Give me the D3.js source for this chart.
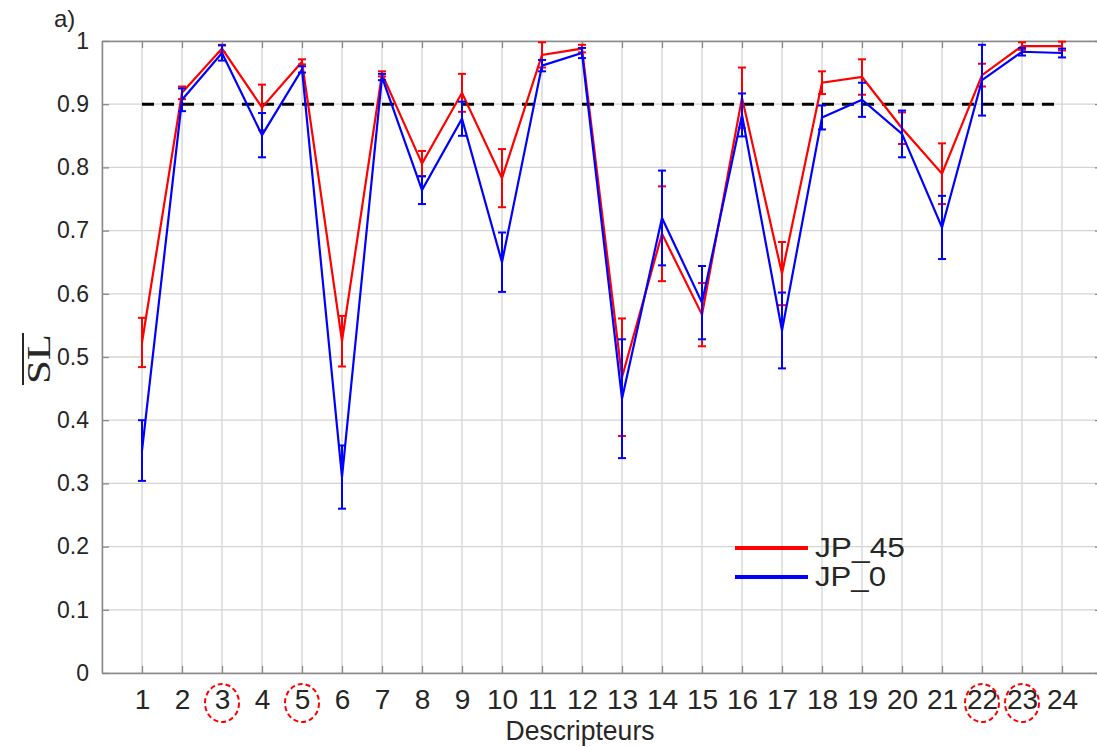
<!DOCTYPE html>
<html>
<head>
<meta charset="utf-8">
<script src="https://cdn.jsdelivr.net/npm/d3@7"></script>
<style>
  html, body { margin: 0; padding: 0; background: #fff; }
  svg { display: block; }
</style>
</head>
<body>
<svg id="chart" width="1097" height="747"></svg>
<script>
// ---- data ----
const categories = d3.range(1, 25);
const yTicks = [0, 0.1, 0.2, 0.3, 0.4, 0.5, 0.6, 0.7, 0.8, 0.9, 1];
const yTickLabels = ["0", "0.1", "0.2", "0.3", "0.4", "0.5", "0.6", "0.7", "0.8", "0.9", "1"];
const circled = [3, 5, 22, 23];
const threshold = 0.9;

const jp45 = [0.523, 0.918, 0.988, 0.895, 0.967, 0.525, 0.948, 0.806, 0.918, 0.783, 0.978, 0.988,
              0.468, 0.695, 0.567, 0.910, 0.632, 0.934, 0.943, 0.862, 0.790, 0.946, 0.992, 0.992];
const jp45Err = [0.039, 0.010, 0.006, 0.036, 0.004, 0.040, 0.004, 0.020, 0.030, 0.046, 0.020, 0.006,
                 0.093, 0.075, 0.050, 0.048, 0.050, 0.018, 0.028, 0.025, 0.048, 0.018, 0.006, 0.007];
const jp0 = [0.352, 0.907, 0.981, 0.851, 0.955, 0.310, 0.943, 0.764, 0.877, 0.650, 0.961, 0.981,
             0.434, 0.720, 0.586, 0.883, 0.542, 0.879, 0.907, 0.853, 0.705, 0.938, 0.983, 0.981];
const jp0Err = [0.048, 0.018, 0.012, 0.035, 0.005, 0.050, 0.005, 0.022, 0.027, 0.047, 0.009, 0.008,
                0.094, 0.075, 0.058, 0.034, 0.060, 0.019, 0.027, 0.037, 0.050, 0.056, 0.006, 0.007];

const series = [
  { name: "JP_45", color: "#ff0000", values: jp45, err: jp45Err, labelWidth: 90 },
  { name: "JP_0",  color: "#0000ff", values: jp0,  err: jp0Err, labelWidth: 71 }
];

// ---- layout ----
const svg = d3.select("#chart");
const pL = 102, pR = 1102, pT = 41, pB = 673;
const x = d3.scaleLinear().domain([0, 25]).range([pL, pR]);
const y = d3.scaleLinear().domain([0, 1]).range([pB, pT]);

const gridColor = "#d4d4d4";
const axisColor = "#8a8a8a";
const textColor = "#262626";

// grid
const grid = svg.append("g");
grid.selectAll("line.vg").data(d3.range(0, 26)).join("line")
  .attr("x1", d => x(d)).attr("x2", d => x(d))
  .attr("y1", pT).attr("y2", pB)
  .attr("stroke", gridColor).attr("stroke-width", 1.3);
grid.selectAll("line.hg").data(yTicks).join("line")
  .attr("x1", pL).attr("x2", pR)
  .attr("y1", d => y(d)).attr("y2", d => y(d))
  .attr("stroke", gridColor).attr("stroke-width", 1.3);

// axes (box)
const axL = svg.append("g").attr("transform", `translate(${pL},0)`)
  .call(d3.axisLeft(y).tickValues(yTicks).tickSizeInner(-7).tickSizeOuter(0).tickPadding(13)
    .tickFormat((d, i) => yTickLabels[i]));
const axB = svg.append("g").attr("transform", `translate(0,${pB})`)
  .call(d3.axisBottom(x).tickValues(categories).tickSizeInner(-7).tickSizeOuter(0).tickPadding(16)
    .tickFormat(d3.format("d")));
const axT = svg.append("g").attr("transform", `translate(0,${pT})`)
  .call(d3.axisTop(x).tickValues(categories).tickSizeInner(-7).tickSizeOuter(0).tickFormat(""));
const axR = svg.append("g").attr("transform", `translate(${pR},0)`)
  .call(d3.axisRight(y).tickValues(yTicks).tickSizeInner(-7).tickSizeOuter(0).tickFormat(""));

[axL, axB, axT, axR].forEach(g => {
  g.select(".domain").attr("stroke", axisColor).attr("stroke-width", 1.5);
  g.selectAll(".tick line").attr("stroke", axisColor).attr("stroke-width", 1.3);
});
axL.selectAll(".tick text")
  .attr("font-family", "Liberation Sans, Arial, sans-serif")
  .attr("font-size", 23).attr("fill", textColor);
axB.selectAll(".tick text")
  .attr("font-family", "Liberation Sans Narrow, Arial Narrow, sans-serif")
  .attr("font-size", 28).attr("fill", textColor);

// circled labels
svg.append("g").selectAll("ellipse").data(circled).join("ellipse")
  .attr("cx", d => x(d)).attr("cy", 703)
  .attr("rx", 17).attr("ry", 19)
  .attr("fill", "none").attr("stroke", "#ff0000").attr("stroke-width", 2)
  .attr("stroke-dasharray", "5,3");

// threshold dashed line
svg.append("line")
  .attr("x1", x(1)).attr("x2", x(24))
  .attr("y1", y(threshold)).attr("y2", y(threshold))
  .attr("stroke", "#000").attr("stroke-width", 3).attr("stroke-dasharray", "12,8");

// series
const line = d3.line().x((d, i) => x(categories[i])).y(d => y(d));
series.forEach(s => {
  const g = svg.append("g");
  const eb = g.selectAll("g.eb").data(categories).join("g");
  eb.append("line")
    .attr("x1", (c) => x(c)).attr("x2", c => x(c))
    .attr("y1", (c, i) => y(s.values[i] - s.err[i]))
    .attr("y2", (c, i) => y(s.values[i] + s.err[i]))
    .attr("stroke", s.color).attr("stroke-width", 2);
  [-1, 1].forEach(sg => {
    eb.append("line")
      .attr("x1", c => x(c) - 4).attr("x2", c => x(c) + 4)
      .attr("y1", (c, i) => y(s.values[i] + sg * s.err[i]))
      .attr("y2", (c, i) => y(s.values[i] + sg * s.err[i]))
      .attr("stroke", s.color).attr("stroke-width", 2);
  });
  g.append("path").datum(s.values)
    .attr("d", line).attr("fill", "none")
    .attr("stroke", s.color).attr("stroke-width", 2.2)
    .attr("stroke-linejoin", "miter");
});

// legend
const leg = svg.append("g");
series.forEach((s, i) => {
  const ly = 548 + i * 29;
  leg.append("line").attr("x1", 735).attr("x2", 808).attr("y1", ly).attr("y2", ly)
    .attr("stroke", s.color).attr("stroke-width", 4);
  leg.append("text").attr("x", 815).attr("y", ly + 9)
    .attr("font-family", "Liberation Sans, Arial, sans-serif").attr("font-size", 27)
    .attr("textLength", s.labelWidth).attr("lengthAdjust", "spacingAndGlyphs")
    .attr("fill", textColor).text(s.name);
});

// axis titles
svg.append("text").attr("x", 580).attr("y", 740)
  .attr("text-anchor", "middle")
  .attr("font-family", "Liberation Sans Narrow, Arial Narrow, sans-serif")
  .attr("font-size", 27).attr("fill", textColor)
  .attr("textLength", 149).attr("lengthAdjust", "spacingAndGlyphs")
  .text("Descripteurs");

const yl = svg.append("g").attr("transform", "translate(50,359) rotate(-90)");
yl.append("text").attr("x", 0).attr("y", 0).attr("text-anchor", "middle")
  .attr("font-family", "Liberation Serif, Times New Roman, serif")
  .attr("font-size", 34).attr("fill", textColor)
  .attr("textLength", 50).attr("lengthAdjust", "spacingAndGlyphs")
  .text("SL");
yl.append("line").attr("x1", -26).attr("x2", 26).attr("y1", -27).attr("y2", -27)
  .attr("stroke", textColor).attr("stroke-width", 2);

svg.append("text").attr("x", 54).attr("y", 27)
  .attr("font-family", "Liberation Sans, Arial, sans-serif")
  .attr("font-size", 24).attr("fill", textColor).text("a)");
</script>
</body>
</html>
